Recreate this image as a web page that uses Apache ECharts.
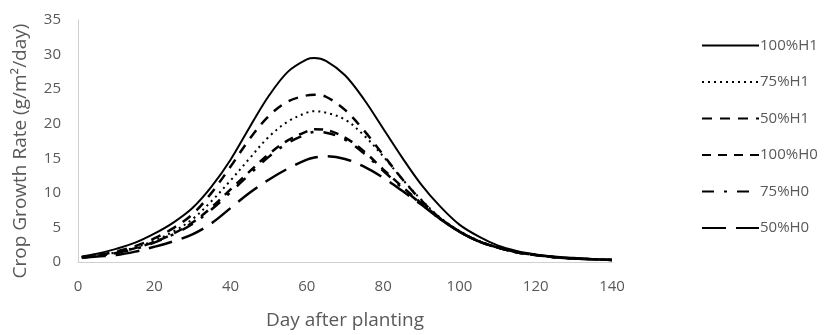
<!DOCTYPE html>
<html>
<head>
<meta charset="utf-8">
<script src="https://cdn.jsdelivr.net/npm/echarts@6/dist/echarts.min.js"></script>
<style>html,body{margin:0;padding:0;background:#fff;overflow:hidden}#c{width:825px;height:335px}</style>
</head>
<body>
<div id="c"></div>
<script>
const days   = [1, 5, 10, 15, 20, 25, 30, 35, 40, 45, 50, 55, 60, 62, 65, 70, 75, 80, 85, 90, 95, 100, 105, 110, 115, 120, 125, 130, 135, 140];
const h1_100 = [0.8, 1.2, 1.9, 2.8, 4.1, 5.7, 7.8, 10.9, 14.8, 19.5, 24.0, 27.5, 29.3, 29.5, 29.1, 27.0, 23.5, 19.3, 15.1, 11.2, 8.0, 5.4, 3.7, 2.4, 1.6, 1.1, 0.8, 0.6, 0.4, 0.3];
const h1_75  = [0.7, 0.9, 1.4, 2.1, 3.1, 4.4, 6.2, 8.8, 11.8, 15.0, 18.1, 20.3, 21.6, 21.8, 21.6, 20.6, 18.3, 15.3, 12.0, 9.0, 6.4, 4.5, 3.1, 2.1, 1.4, 1.0, 0.7, 0.5, 0.4, 0.3];
const h1_50  = [0.7, 1.0, 1.5, 2.3, 3.4, 4.9, 6.9, 10.0, 13.8, 17.8, 21.1, 23.2, 24.1, 24.2, 23.9, 22.0, 19.0, 15.5, 12.0, 8.9, 6.3, 4.4, 3.0, 2.1, 1.4, 1.0, 0.7, 0.5, 0.4, 0.3];
const h0_100 = [0.7, 0.9, 1.3, 2.0, 2.9, 4.1, 5.7, 7.9, 10.5, 13.1, 15.6, 17.6, 18.9, 19.2, 19.1, 18.0, 16.0, 13.4, 10.9, 8.5, 6.3, 4.4, 3.0, 2.1, 1.4, 1.0, 0.7, 0.5, 0.4, 0.3];
const h0_75  = [0.7, 0.9, 1.3, 1.9, 2.8, 4.0, 5.5, 7.6, 10.1, 12.7, 15.2, 17.2, 18.5, 18.8, 18.7, 17.7, 15.7, 13.2, 10.7, 8.4, 6.2, 4.4, 3.0, 2.1, 1.4, 1.0, 0.7, 0.5, 0.4, 0.3];
const h0_50  = [0.6, 0.8, 1.0, 1.5, 2.2, 3.0, 4.0, 5.6, 7.8, 10.0, 11.9, 13.5, 14.8, 15.1, 15.3, 14.9, 13.8, 12.2, 10.3, 8.3, 6.2, 4.4, 3.0, 2.1, 1.4, 1.0, 0.7, 0.5, 0.4, 0.3];
const names  = ['100%H1', '75%H1', '50%H1', '100%H0', '75%H0', '50%H0'];
const xTicks = [0, 20, 40, 60, 80, 100, 120, 140];
const yTicks = [0, 5, 10, 15, 20, 25, 30, 35];

const values = [h1_100, h1_75, h1_50, h0_100, h0_75, h0_50];
const dashes = ['solid', [2, 4], [10, 8], [9, 7], [12, 10, 3, 10], [24, 10]];
const widths = [2, 2, 2.5, 2.5, 2.5, 2.5];

const font = '"Open Sans", Lato, sans-serif';
const chart = echarts.init(document.getElementById('c'));
chart.setOption({
  animation: false,
  textStyle: { fontFamily: font },
  grid: { left: 78, right: 213, top: 20, bottom: 58 },
  legend: {
    orient: 'vertical',
    left: 696,
    top: 33,
    itemWidth: 57,
    itemHeight: 16,
    itemGap: 21.5,
    data: names,
    itemStyle: { opacity: 0 },
    textStyle: { color: '#595959', fontSize: 15, fontFamily: font, padding: [0, 0, 0, -4] }
  },
  xAxis: {
    type: 'value', min: xTicks[0], max: xTicks[xTicks.length - 1], interval: xTicks[1] - xTicks[0],
    name: 'Day after planting', nameLocation: 'middle', nameGap: 49,
    nameTextStyle: { color: '#595959', fontSize: 19 },
    axisLine: { lineStyle: { color: '#d0d0d0', width: 1 } },
    axisTick: { show: false },
    splitLine: { show: false },
    axisLabel: { color: '#595959', fontSize: 15, margin: 17 }
  },
  yAxis: {
    type: 'value', min: yTicks[0], max: yTicks[yTicks.length - 1], interval: yTicks[1] - yTicks[0],
    name: 'Crop Growth Rate (g/m²/day)', nameLocation: 'middle', nameGap: 48,
    nameTextStyle: { color: '#595959', fontSize: 19, padding: [0, 20, 0, 0] },
    axisLine: { show: true, lineStyle: { color: '#d0d0d0', width: 1 } },
    axisTick: { show: false },
    splitLine: { show: false },
    axisLabel: { color: '#595959', fontSize: 15, margin: 17 }
  },
  series: names.map((n, i) => ({
    name: n,
    type: 'line',
    smooth: 0.35,
    symbol: 'none',
    data: days.map((d, j) => [d, values[i][j]]),
    lineStyle: { color: '#000', width: widths[i], type: dashes[i] },
    itemStyle: { color: '#000' }
  }))
});
</script>
</body>
</html>
